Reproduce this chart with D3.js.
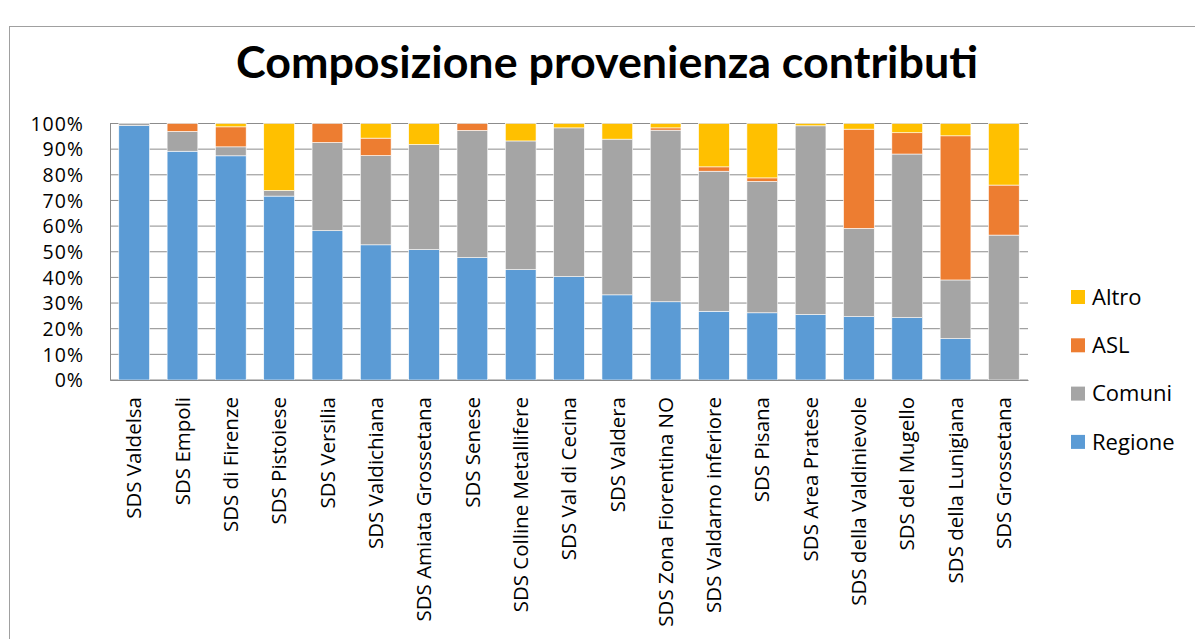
<!DOCTYPE html>
<html><head><meta charset="utf-8">
<script src="https://cdn.jsdelivr.net/npm/d3@7"></script>
<style>body{margin:0;background:#fff}svg{display:block}</style>
</head><body><svg id="c" width="1195" height="639"></svg>
<script>
const categories = ["SDS Valdelsa","SDS Empoli","SDS di Firenze","SDS Pistoiese","SDS Versilia","SDS Valdichiana","SDS Amiata Grossetana","SDS Senese","SDS Colline Metallifere","SDS Val di Cecina","SDS Valdera","SDS Zona Fiorentina NO","SDS Valdarno inferiore","SDS Pisana","SDS Area Pratese","SDS della Valdinievole","SDS del Mugello","SDS della Lunigiana","SDS Grossetana"];
const regione = [99.2,89.2,87.4,71.7,58.2,52.7,50.8,47.7,43.0,40.3,33.2,30.5,26.8,26.2,25.5,24.7,24.3,16.1,0];
const comuni  = [0.8,7.7,3.5,2.2,34.4,34.8,41.0,49.6,50.2,58.0,60.7,66.9,54.6,51.2,73.6,34.4,63.8,22.9,56.5];
const asl     = [0,3.1,7.8,0,7.4,6.8,0,2.7,0,0,0,0.9,1.7,1.4,0,38.7,8.3,56.2,19.5];
const altro   = [0,0,1.3,26.1,0,5.7,8.2,0,6.8,1.7,6.1,1.7,16.9,21.2,0.9,2.2,3.6,4.8,24.0];
const seriesNames = ["Regione","Comuni","ASL","Altro"];
const colors = ["#5b9bd5","#a5a5a5","#ed7d31","#ffc000"];
const yTicks = [0,10,20,30,40,50,60,70,80,90,100];

const svg = d3.select("#c");
const font = "'Open Sans', 'Liberation Sans', sans-serif";
const titleFont = "Lato, 'Liberation Sans', sans-serif";
svg.append("rect").attr("x",9.5).attr("y",26.5).attr("width",1200).attr("height",700)
  .attr("fill","none").attr("stroke","#a0a0a0");

svg.append("text").attr("x",607).attr("y",78).attr("text-anchor","middle")
  .attr("font-family",titleFont).attr("font-weight","bold").attr("font-size",44.8).attr("fill","#000")
  .text("Composizione provenienza contributi");

const rows = categories.map((c,i)=>({cat:c,Regione:regione[i],Comuni:comuni[i],ASL:asl[i],Altro:altro[i]}));
const stack = d3.stack().keys(seriesNames).offset(d3.stackOffsetExpand)(rows);

const x = d3.scaleBand().domain(categories).range([110,1028]).paddingInner(0.364).paddingOuter(0.182);
const y = d3.scaleLinear().domain([0,1]).range([380,123.5]);

const grid = svg.append("g");
grid.selectAll("line").data(yTicks).join("line")
  .attr("x1",110).attr("x2",1028).attr("y1",d=>y(d/100)).attr("y2",d=>y(d/100))
  .attr("stroke","#8c8c8c").attr("stroke-width",1);

svg.append("g").selectAll("g").data(stack).join("g").attr("fill",(d,i)=>colors[i])
  .selectAll("rect").data(d=>d).join("rect")
  .attr("x",d=>x(d.data.cat)).attr("width",x.bandwidth())
  .attr("y",d=>y(d[1])).attr("height",d=>Math.max(0,y(d[0])-y(d[1])))
  .attr("stroke","#fff").attr("stroke-width",0.6);

const yAxis = svg.append("g").attr("transform","translate(110,0)")
  .call(d3.axisLeft(y).tickValues(yTicks.map(d=>d/100)).tickFormat(d=>Math.round(d*100)+"%").tickSize(0).tickPadding(26));
yAxis.select(".domain").attr("stroke","#8c8c8c");
yAxis.selectAll("text").attr("font-family",font).attr("font-size",19.5).attr("letter-spacing","1px").attr("fill","#000").attr("dy","0.35em");

const xAxis = svg.append("g").attr("transform","translate(0,380)")
  .call(d3.axisBottom(x).tickSize(0).tickPadding(0));
xAxis.select(".domain").attr("stroke","#8c8c8c");
xAxis.selectAll("text").attr("font-family",font).attr("font-size",20.5).attr("fill","#000")
  .attr("transform","rotate(-90)").attr("text-anchor","end").attr("x",-17).attr("y",0).attr("dy","0.35em");

const legendItems = ["Altro","ASL","Comuni","Regione"];
const lg = svg.append("g").selectAll("g").data(legendItems).join("g")
  .attr("transform",(d,i)=>`translate(1071,${297+i*48.3})`);
lg.append("rect").attr("x",0).attr("y",-7).attr("width",14).attr("height",14)
  .attr("fill",d=>colors[seriesNames.indexOf(d)]);
lg.append("text").attr("x",21).attr("y",0).attr("dy","0.35em").attr("font-family",font).attr("font-size",22).attr("fill","#000").text(d=>d);
</script></body></html>
